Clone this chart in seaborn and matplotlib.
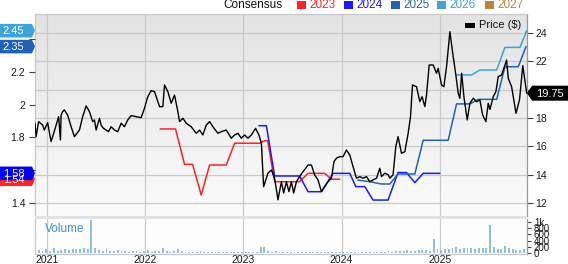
import numpy as np
import pandas as pd
import matplotlib
matplotlib.use("Agg")
import matplotlib.pyplot as plt
import matplotlib.dates as mdates
import matplotlib.transforms as mtrans
from matplotlib.patches import Polygon, Rectangle
from matplotlib.colors import LinearSegmentedColormap
import seaborn as sns

# ---------------- data (time as decimal years) ----------------
price_t = [2020.874, 2020.885, 2020.911, 2020.952, 2020.969, 2021.003, 2021.038, 2021.054, 2021.089, 2021.115,
           2021.133, 2021.140, 2021.156, 2021.173, 2021.207, 2021.242, 2021.276, 2021.327, 2021.360, 2021.395,
           2021.429, 2021.462, 2021.480, 2021.497, 2021.531, 2021.548, 2021.571, 2021.599, 2021.622, 2021.650,
           2021.684, 2021.717, 2021.752, 2021.786, 2021.819, 2021.854, 2021.905, 2021.956, 2021.990, 2022.023,
           2022.058, 2022.092, 2022.143, 2022.177, 2022.194, 2022.228, 2022.262, 2022.296, 2022.330, 2022.347,
           2022.381, 2022.415, 2022.466, 2022.517, 2022.551, 2022.585, 2022.619, 2022.653, 2022.687, 2022.738,
           2022.772, 2022.823, 2022.874, 2022.908, 2022.942, 2022.977, 2023.010, 2023.044, 2023.079, 2023.122,
           2023.156, 2023.181, 2023.204, 2023.248, 2023.283, 2023.316, 2023.350, 2023.385, 2023.408, 2023.436,
           2023.462, 2023.487, 2023.510, 2023.538, 2023.571, 2023.605, 2023.633, 2023.656, 2023.691, 2023.724,
           2023.758, 2023.793, 2023.827, 2023.860, 2023.895, 2023.921, 2023.946, 2023.980, 2024.013, 2024.048,
           2024.082, 2024.115, 2024.150, 2024.184, 2024.217, 2024.252, 2024.286, 2024.319, 2024.354, 2024.388,
           2024.405, 2024.439, 2024.472, 2024.490, 2024.523, 2024.551, 2024.574, 2024.609, 2024.643, 2024.677,
           2024.701, 2024.721, 2024.762, 2024.796, 2024.819, 2024.847, 2024.864, 2024.891, 2024.932, 2024.966,
           2024.983, 2025.017, 2025.041, 2025.068, 2025.102, 2025.136, 2025.163, 2025.187, 2025.204, 2025.222,
           2025.245, 2025.279, 2025.306, 2025.340, 2025.374, 2025.408, 2025.436, 2025.469, 2025.493, 2025.510,
           2025.544, 2025.571, 2025.595, 2025.630, 2025.663, 2025.680, 2025.697, 2025.731, 2025.776, 2025.812,
           2025.845, 2025.885]
price_v = [17.63, 16.68, 17.74, 17.50, 17.15, 17.67, 16.33, 16.68, 17.50, 18.09,
           16.45, 18.20, 18.45, 18.57, 18.20, 17.38, 16.68, 17.15, 18.09, 18.85,
           18.45, 17.74, 17.86, 17.15, 17.98, 17.50, 17.27, 17.15, 17.03, 17.38,
           17.15, 17.03, 17.63, 17.38, 17.86, 18.17, 18.09, 18.02, 18.69, 19.50,
           19.93, 19.86, 18.80, 18.80, 20.33, 19.86, 19.04, 19.62, 18.45, 17.74,
           17.98, 17.63, 17.38, 16.92, 17.15, 16.80, 17.50, 17.74, 17.38, 16.92,
           17.03, 17.15, 16.57, 16.80, 16.92, 16.57, 16.80, 16.57, 16.80, 17.27,
           16.80, 16.22, 13.15, 14.10, 14.33, 13.75, 12.22, 13.50, 12.70, 13.50,
           12.80, 13.50, 12.70, 13.50, 13.86, 14.21, 14.45, 14.68, 14.68, 13.98,
           13.63, 12.80, 13.15, 13.50, 13.75, 14.92, 15.16, 15.27, 15.27, 15.74,
           15.39, 14.57, 13.75, 13.86, 13.75, 13.86, 13.50, 13.63, 13.75, 14.45,
           13.86, 14.10, 14.00, 13.75, 13.98, 15.98, 16.68, 15.51, 15.62, 16.92,
           18.09, 20.33, 20.21, 19.15, 19.50, 18.80, 19.62, 21.74, 21.74, 21.16,
           21.50, 20.33, 20.21, 21.62, 24.09, 22.33, 21.04, 19.74, 19.39, 21.16,
           19.50, 17.86, 19.04, 19.39, 19.15, 19.27, 18.21, 17.74, 19.04, 18.60,
           19.50, 19.86, 20.92, 21.04, 21.74, 22.09, 20.80, 20.21, 18.33, 19.30,
           21.70, 19.75]

eps2023_t = [2022.150, 2022.306, 2022.398, 2022.480, 2022.568, 2022.653, 2022.823, 2022.908, 2023.163,
             2023.214, 2023.245, 2023.316, 2023.571, 2023.656, 2023.827, 2023.895, 2023.980]
eps2023_v = [1.852, 1.852, 1.636, 1.636, 1.449, 1.632, 1.632, 1.765, 1.765,
             1.780, 1.780, 1.530, 1.530, 1.581, 1.581, 1.545, 1.545]

eps2024_t = [2023.156, 2023.232, 2023.316, 2023.571, 2023.656, 2023.793, 2023.911, 2024.082, 2024.143,
             2024.235, 2024.319, 2024.472, 2024.574, 2024.660, 2024.745, 2024.830, 2025.000]
eps2024_v = [1.872, 1.872, 1.565, 1.565, 1.469, 1.469, 1.581, 1.581, 1.500,
             1.500, 1.418, 1.418, 1.586, 1.586, 1.524, 1.581, 1.581]

eps2025_t = [2024.163, 2024.286, 2024.405, 2024.490, 2024.574, 2024.745, 2024.830, 2025.085,
             2025.170, 2025.306, 2025.391, 2025.579, 2025.663, 2025.799, 2025.878]
eps2025_v = [1.540, 1.530, 1.516, 1.516, 1.577, 1.577, 1.783, 1.783,
             2.005, 2.005, 2.033, 2.033, 2.232, 2.232, 2.355]

eps2026_t = [2025.170, 2025.323, 2025.408, 2025.579, 2025.663, 2025.816, 2025.885]
eps2026_v = [2.182, 2.182, 2.212, 2.212, 2.350, 2.350, 2.452]

# biweekly volume (thousands) starting 2020-11-16
volume_v = ([60, 90, 50, 120] +
            [80, 150, 70, 110, 130, 100, 140, 120, 130, 150, 120, 1050, 160, 110, 80, 120,
             60, 70, 90, 50, 60, 40, 80, 50, 40, 60] +
            [100, 40, 50, 60, 170, 50, 40, 60, 120, 50, 40, 30, 40, 30, 50, 30,
             30, 40, 30, 30, 40, 30, 30, 40, 30, 30] +
            [30, 40, 30, 40, 200, 180, 60, 40, 50, 30, 40, 30, 30, 40, 30, 30,
             30, 40, 30, 30, 30, 40, 30, 30, 40, 30] +
            [30, 30, 40, 30, 30, 40, 30, 30, 40, 30, 30, 40, 50, 40, 60, 80,
             70, 90, 60, 80, 100, 90, 110, 80, 450, 120] +
            [100, 140, 120, 150, 180, 130, 170, 160, 150, 140, 170, 160, 150, 900,
             200, 140, 130, 220, 150, 120, 100, 90, 120])

series_years = ["2023", "2024", "2025", "2026", "2027"]
series_colors = ["#ff2222", "#1a1aff", "#1f62b8", "#3da3d8", "#b8862e"]

price_ticks = [12, 14, 16, 18, 20, 22, 24]
price_tick_labels = ["12", "14", "16", "18", "", "22", "24"]
eps_ticks = [1.4, 1.6, 1.8, 2.0, 2.2, 2.4]
eps_tick_labels = ["1.4", "", "1.8", "2", "2.2", ""]
vol_ticks = [0, 200, 400, 600, 800, 1000]
vol_tick_labels = ["0", "200", "400", "600", "800", "1k"]
x_range = [2020.874, 2025.888]


def to_dt(t):
    t = np.asarray(t, float)
    return pd.Timestamp("2021-01-01") + pd.to_timedelta((t - 2021) * 365.25, unit="D")


# ---------------- figure ----------------
sns.set_theme(style="white")
plt.rcParams["font.family"] = ["Liberation Sans", "DejaVu Sans"]

W, H = 568, 264
fig = plt.figure(figsize=(W / 100, H / 100), dpi=100)


def fx(x):
    return x / W


def fy(y):
    return 1 - y / H


L, R, T, B = 35, 527, 14, 216
VT, VB = 219, 254
rect_p = [fx(L), fy(B), fx(R) - fx(L), fy(T) - fy(B)]
rect_v = [fx(L), fy(VB), fx(R) - fx(L), fy(VT) - fy(VB)]

# gradient background
ax_bg = fig.add_axes(rect_p, zorder=-1)
cmap = LinearSegmentedColormap.from_list("bg", ["#e3e3e3", "#fbfbfb"])
ax_bg.imshow(np.linspace(0, 1, 200).reshape(-1, 1), cmap=cmap, aspect="auto",
             extent=[0, 1, 0, 1])
ax_bg.axis("off")

ax_p = fig.add_axes(rect_p)
ax_p.patch.set_visible(False)
ax_p.xaxis_date()
ax_v = fig.add_axes(rect_v, sharex=ax_p)
ax_v.set_facecolor("#fdfdfd")

ax_e = ax_p.twinx()
ax_l = ax_p.twinx()
for a in (ax_e, ax_l):
    a.patch.set_visible(False)
    for s in a.spines.values():
        s.set_visible(False)

grid_c = "#cacaca"
xl = to_dt(x_range)

# separator band
fig.add_artist(Rectangle((fx(L), fy(VT)), fx(R) - fx(L), fy(B) - fy(VT),
                         transform=fig.transFigure, color="#e2e2e2", lw=0))

# EPS lines
for tt, vv, c in [(eps2023_t, eps2023_v, series_colors[0]),
                  (eps2024_t, eps2024_v, series_colors[1]),
                  (eps2025_t, eps2025_v, series_colors[2]),
                  (eps2026_t, eps2026_v, series_colors[3])]:
    sns.lineplot(x=to_dt(tt), y=vv, ax=ax_e, color=c, linewidth=1.1,
                 estimator=None, sort=False, legend=False)

# price line
sns.lineplot(x=to_dt(price_t), y=price_v, ax=ax_l, color="black", linewidth=1.0,
             estimator=None, sort=False, legend=False)

# volume
ax_v.bar(pd.date_range("2020-11-16", periods=len(volume_v), freq="14D"), volume_v,
         width=7, color="#8fbfe6", edgecolor="none", zorder=2)

# limits
p_lo, p_hi = 11.08, 25.34
e_lo, e_hi = 1.3206, 2.554
for a in (ax_p, ax_l):
    a.set_ylim(p_lo, p_hi)
ax_e.set_ylim(e_lo, e_hi)
ax_v.set_ylim(-32, 1097)
ax_p.set_xlim(xl[0], xl[1])

# grids
ax_p.set_yticks(price_ticks)
ax_p.set_yticklabels(price_tick_labels)
ax_p.grid(True, color=grid_c, lw=0.9)
ax_p.set_axisbelow(True)
ax_v.grid(True, axis="x", color=grid_c, lw=0.9)
ax_v.set_axisbelow(True)
ax_p.xaxis.set_major_locator(mdates.YearLocator())
ax_p.xaxis.set_major_formatter(mdates.DateFormatter("%Y"))

# price ticks on right
ax_p.yaxis.tick_right()
ax_p.tick_params(axis="y", right=True, left=False, length=4, width=0.8, color="#444",
                 labelsize=7.5, labelcolor="#1a1a1a", pad=2)
ax_p.tick_params(axis="x", bottom=False, labelbottom=False)

# EPS ticks on left
ax_e.yaxis.tick_left()
ax_e.set_yticks(eps_ticks)
ax_e.set_yticklabels(eps_tick_labels)
ax_e.tick_params(axis="y", left=True, right=False, length=4, width=0.8, color="#444",
                 labelsize=7.5, labelcolor="#1a1a1a", pad=3)
ax_e.set_ylabel("")
ax_l.set_yticks([])
ax_l.set_ylabel("")
for a in (ax_e, ax_l):
    a.tick_params(axis="x", bottom=False, labelbottom=False)

# volume ticks
ax_v.yaxis.tick_right()
ax_v.set_yticks(vol_ticks)
ax_v.set_yticklabels(vol_tick_labels)
ax_v.tick_params(axis="y", right=True, left=False, length=3, width=0.8, color="#444",
                 labelsize=7, labelcolor="#1a1a1a", pad=2)
ax_v.tick_params(axis="x", bottom=True, length=0, labelbottom=True, labelsize=7.5,
                 labelcolor="#1a1a1a", pad=0.5)
ax_v.set_xlim(xl[0], xl[1])

for a in (ax_p, ax_v):
    for s in a.spines.values():
        s.set_color("#c8c8c8")
        s.set_linewidth(0.9)
ax_p.spines["bottom"].set_visible(False)
ax_v.spines["top"].set_visible(False)
ax_p.spines["right"].set_color("#9a9a9a")
ax_v.spines["right"].set_color("#9a9a9a")

fig.text(fx(45), fy(229), "Volume", fontsize=8.5, color="#3a8fd0", ha="left", va="center")

# top legend
fig.text(fx(223), fy(5.5), "Consensus", fontsize=8.5, color="#111", ha="left", va="center")
leg_x = [297, 344, 391, 437, 485]
for xx, lab, c in zip(leg_x, series_years, series_colors):
    fig.add_artist(Rectangle((fx(xx), fy(9)), 8.5 / W, 8 / H, transform=fig.transFigure,
                             color=c, lw=0))
    fig.text(fx(xx + 12.5), fy(5.5), lab, fontsize=8.5, color=c, ha="left", va="center")

# price legend
fig.add_artist(Rectangle((fx(465), fy(27.5)), 9.5 / W, 5 / H, transform=fig.transFigure,
                         color="black", lw=0))
fig.text(fx(479), fy(25), "Price ($)", fontsize=8, color="#111", ha="left", va="center")


# value tags
def tag(ax_y, xa, val, text, color, side):
    anchor = mtrans.blended_transform_factory(ax_p.transAxes, ax_y.transData)
    tr = fig.dpi_scale_trans + mtrans.ScaledTranslation(xa, val, anchor)
    if side == "left":
        verts = [(-0.35, -0.068), (-0.03, -0.068), (0.0, 0.0), (-0.03, 0.068), (-0.35, 0.068)]
        tx = -0.215
    else:
        verts = [(0.0, 0.0), (0.05, -0.075), (0.42, -0.075), (0.42, 0.075), (0.05, 0.075)]
        tx = 0.225
    fig.add_artist(Polygon(verts, closed=True, transform=tr, facecolor=color,
                           edgecolor="none", zorder=5))
    fig.text(tx, -0.005, text, transform=tr, fontsize=8, color="white",
             ha="center", va="center", zorder=6)


tag(ax_e, 0, eps2026_v[-1], "2.45", series_colors[3], "left")
tag(ax_e, 0, eps2025_v[-1], "2.35", series_colors[2], "left")
tag(ax_e, 0, eps2023_v[-1], "1.54", series_colors[0], "left")
tag(ax_e, 0, eps2024_v[-1], "1.58", "#0000ff", "left")
tag(ax_l, 1, price_v[-1], "19.75", "black", "right")

fig.savefig("out.png", dpi=100)
